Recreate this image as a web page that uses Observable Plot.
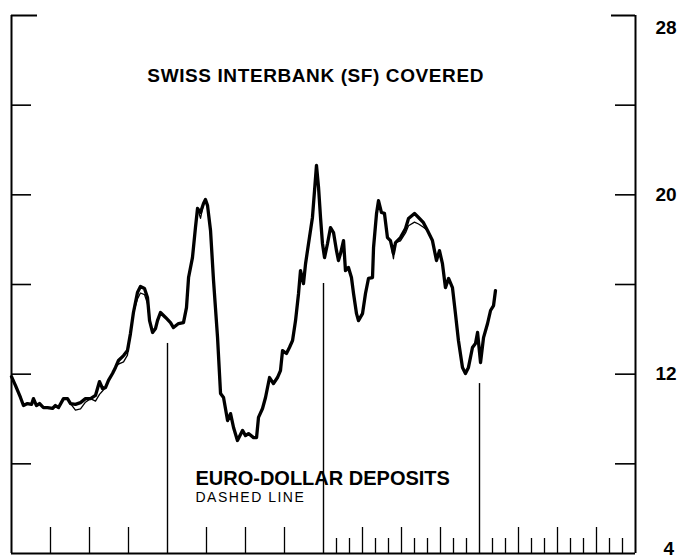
<!DOCTYPE html>
<html>
<head>
<meta charset="utf-8">
<script src="https://cdn.jsdelivr.net/npm/d3@7"></script>
<script src="https://cdn.jsdelivr.net/npm/@observablehq/plot@0.6"></script>
<style>
  html, body { margin: 0; padding: 0; background: #fff; }
  #chart svg { display: block; }
</style>
</head>
<body>
<div id="chart"></div>
<script>
// ---- data (months since start of first year; values in percent) ----
const months = [0,0.31,0.69,0.92,1.23,1.54,1.69,1.92,2.15,2.46,2.77,3.15,3.38,3.62,4.00,4.31,4.54,4.92,5.31,5.69,6.08,6.46,6.77,7.00,7.23,7.46,7.77,8.00,8.23,8.62,8.92,9.15,9.38,9.69,9.92,10.23,10.46,10.62,10.85,11.08,11.23,11.46,11.85,12.23,12.46,12.85,13.23,13.46,13.62,13.92,14.15,14.31,14.54,14.77,14.92,15.08,15.31,15.54,15.85,16.08,16.31,16.62,16.85,17.08,17.38,17.77,18.00,18.23,18.62,18.85,19.00,19.31,19.54,19.85,20.15,20.46,20.69,20.85,21.15,21.38,21.62,21.85,22.08,22.23,22.46,22.62,22.85,23.15,23.31,23.46,23.62,23.77,23.92,24.08,24.31,24.54,24.77,25.00,25.15,25.31,25.54,25.69,25.92,26.15,26.31,26.54,26.69,27.00,27.23,27.46,27.77,27.85,28.08,28.23,28.46,28.69,28.92,29.15,29.38,29.54,29.92,30.31,30.54,31.00,31.31,31.69,32.00,32.38,32.69,32.92,33.15,33.38,33.62,33.92,34.15,34.38,34.69,34.92,35.15,35.46,35.69,35.85,36.08,36.31,36.62,36.85,37.08,37.23];

const swissCovered = [11.89,11.49,10.96,10.60,10.69,10.65,10.91,10.60,10.69,10.51,10.51,10.47,10.60,10.51,10.91,10.91,10.69,10.65,10.73,10.91,10.91,11.05,11.67,11.36,11.40,11.72,12.03,12.30,12.61,12.83,13.05,13.81,14.75,15.64,15.91,15.82,15.42,14.39,13.86,14.04,14.39,14.75,14.53,14.30,14.08,14.26,14.30,14.97,16.31,17.20,18.54,19.39,19.21,19.61,19.79,19.52,18.41,16.18,13.63,11.14,10.96,9.93,10.24,9.62,9.04,9.49,9.26,9.35,9.17,9.17,10.07,10.47,10.96,11.85,11.58,11.85,12.16,13.05,12.92,13.19,13.50,14.39,15.60,16.62,16.04,16.93,17.83,18.99,20.19,21.31,20.32,18.99,17.83,17.20,17.83,18.54,18.32,17.51,17.07,17.38,17.96,16.62,16.76,16.31,15.60,14.70,14.39,14.70,15.60,16.27,16.31,17.65,19.17,19.74,19.21,19.17,18.09,17.96,17.38,17.87,18.09,18.50,18.94,19.17,18.99,18.76,18.41,17.96,17.07,17.51,16.93,15.86,16.27,15.86,14.70,13.50,12.30,12.03,12.30,13.19,13.37,13.86,12.52,13.63,14.26,14.84,15.06,15.73];

const euroDollar = [11.89,11.49,10.96,10.60,10.69,10.65,10.91,10.60,10.69,10.51,10.51,10.47,10.60,10.51,10.91,10.91,10.69,10.40,10.45,10.75,10.91,10.80,11.10,11.25,11.40,11.72,12.03,12.30,12.45,12.55,12.85,13.81,14.75,15.35,15.62,15.55,15.15,14.39,13.86,14.04,14.39,14.75,14.53,14.30,14.08,14.26,14.30,14.97,16.31,17.20,18.54,19.39,18.95,19.61,19.79,19.52,18.41,16.18,13.63,11.14,10.96,9.93,10.24,9.62,9.04,9.49,9.26,9.35,9.17,9.17,10.07,10.47,10.96,11.85,11.58,11.85,12.16,13.05,12.92,13.19,13.50,14.39,15.60,16.62,16.04,16.93,17.83,18.99,20.19,21.31,20.32,18.99,17.83,17.20,17.83,18.54,18.32,17.51,17.07,17.38,17.96,16.62,16.76,16.31,15.60,14.70,14.39,14.70,15.60,16.27,16.31,17.65,19.17,19.74,19.21,19.17,18.09,17.96,17.15,17.87,17.95,18.30,18.62,18.78,18.70,18.55,18.41,17.96,17.07,17.51,16.93,15.86,16.27,15.86,14.70,13.50,12.30,12.03,12.30,13.19,13.37,13.86,12.52,13.63,14.26,14.84,15.06,15.73];

const yearLineMonths = [12, 24, 36];
const yearLineTops = [13.37, 16.04, 11.58];
const quarterTicks = [3, 6, 9, 15, 18, 21, 27, 30, 33, 39, 42, 45];
const monthTicks = [25, 26, 28, 29, 31, 32, 34, 35, 37, 38, 40, 41, 43, 44, 46, 47];
const frameTicks = [8, 12, 16, 20, 24];
const yTickLabels = [28, 20, 12, 4];

const titleText = "SWISS INTERBANK (SF) COVERED";
const legendText = "EURO-DOLLAR DEPOSITS";
const legendSub = "DASHED LINE";

// ---- build tables ----
const swissRows = months.map((m, i) => ({m, v: swissCovered[i]}));
const euroRows = months.map((m, i) => ({m, v: euroDollar[i]}));
const yearRows = yearLineMonths.map((m, i) => ({m, top: yearLineTops[i]}));

// ---- layout ----
const W = 698, H = 558, mt = 15, mb = 5, ml = 11, mr = 63;
const xDom = [0, 48], yDom = [4, 28];
const pxX = (W - ml - mr) / (xDom[1] - xDom[0]);
const pxY = (H - mt - mb) / (yDom[1] - yDom[0]);
const font = "'Liberation Sans', Arial, sans-serif";

const chart = Plot.plot({
  width: W, height: H,
  marginTop: mt, marginBottom: mb, marginLeft: ml, marginRight: mr,
  x: {domain: xDom, axis: null},
  y: {domain: yDom},
  style: {background: "#fff", fontFamily: font, color: "#000"},
  marks: [
    // frame
    Plot.ruleX([xDom[0], xDom[1]], {y1: yDom[0], y2: yDom[1], stroke: "#000", strokeWidth: 2}),
    Plot.ruleY([yDom[0]], {x1: xDom[0], x2: xDom[1], stroke: "#000", strokeWidth: 2.2}),
    Plot.ruleY([yDom[1]], {x1: xDom[0], x2: xDom[0] + 26 / pxX, stroke: "#000", strokeWidth: 2}),
    Plot.ruleY([yDom[1]], {x1: xDom[1] - 24 / pxX, x2: xDom[1], stroke: "#000", strokeWidth: 2}),
    Plot.ruleY(frameTicks, {x1: xDom[0], x2: xDom[0] + 20 / pxX, stroke: "#000", strokeWidth: 1.6}),
    Plot.ruleY(frameTicks, {x1: xDom[1] - 20 / pxX, x2: xDom[1], stroke: "#000", strokeWidth: 1.6}),
    // bottom ticks
    Plot.ruleX(quarterTicks, {y1: yDom[0], y2: yDom[0] + 26 / pxY, stroke: "#000", strokeWidth: 1.3}),
    Plot.ruleX(monthTicks, {y1: yDom[0], y2: yDom[0] + 15 / pxY, stroke: "#000", strokeWidth: 1.3}),
    // year separators
    Plot.ruleX(yearRows, {x: "m", y1: yDom[0], y2: "top", stroke: "#000", strokeWidth: 1.4}),
    // series
    Plot.line(euroRows, {x: "m", y: "v", stroke: "#000", strokeWidth: 1.3, strokeLinejoin: "round"}),
    Plot.line(swissRows, {x: "m", y: "v", stroke: "#000", strokeWidth: 3.3, strokeLinejoin: "round", strokeLinecap: "round"}),
    // right axis labels
    Plot.axisY(yTickLabels.filter(d => d !== yDom[0] && d !== yDom[1]), {anchor: "right", tickSize: 0, tickPadding: 20, fontSize: 19, fontWeight: "bold", tickFormat: d => String(d)}),
    Plot.axisY([yDom[1]], {anchor: "right", tickSize: 0, tickPadding: 20, dy: 12, fontSize: 19, fontWeight: "bold", tickFormat: d => String(d)}),
    Plot.axisY([yDom[0]], {anchor: "right", tickSize: 0, tickPadding: 28, dy: -5, fontSize: 19, fontWeight: "bold", tickFormat: d => String(d)}),
    // annotations
    Plot.text([titleText], {x: 23.4, y: 25.3, text: d => d, fontSize: 19, fontWeight: "bold", textAnchor: "middle", fill: "#000"}),
    Plot.text([legendText], {x: 14.15, y: 7.35, text: d => d, fontSize: 20, fontWeight: "bold", textAnchor: "start", fill: "#000"}),
    Plot.text([legendSub], {x: 14.15, y: 6.5, text: d => d, fontSize: 14, textAnchor: "start", fill: "#000"})
  ]
});

// letter spacing tweaks for the lettered annotations
d3.select(chart).selectAll("text")
  .filter(function() { return this.textContent === titleText; })
  .attr("letter-spacing", "0.6px");
d3.select(chart).selectAll("text")
  .filter(function() { return this.textContent === legendSub; })
  .attr("letter-spacing", "1.5px");

document.getElementById("chart").appendChild(chart);
</script>
</body>
</html>
